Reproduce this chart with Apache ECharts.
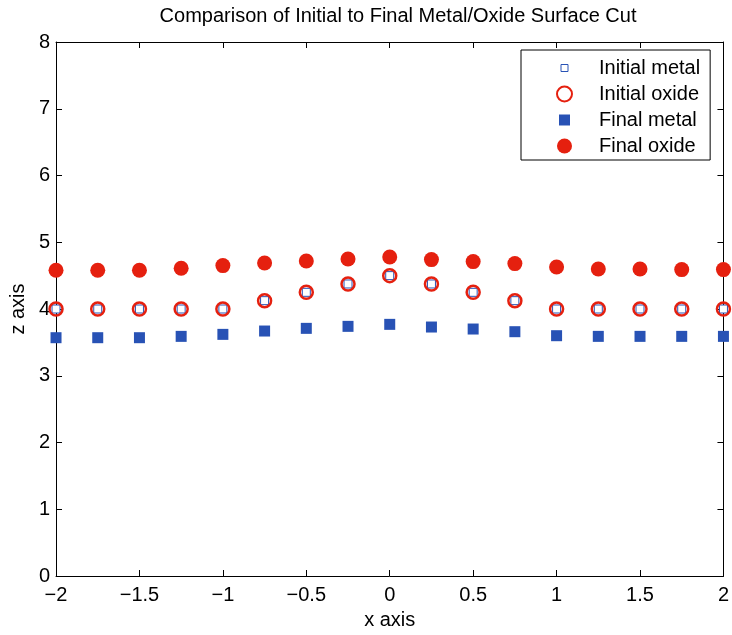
<!DOCTYPE html>
<html><head><meta charset="utf-8">
<script src="https://cdn.jsdelivr.net/npm/echarts@6/dist/echarts.min.js"></script>
<style>html,body{margin:0;padding:0;background:#fff}#c{width:732px;height:635px}</style>
</head><body><div id="c"></div>
<script>
const xValues = [-2,-1.75,-1.5,-1.25,-1,-0.75,-0.5,-0.25,0,0.25,0.5,0.75,1,1.25,1.5,1.75,2];
const initialMetal = [4,4,4,4,4,4.125,4.25,4.375,4.5,4.375,4.25,4.125,4,4,4,4,4];
const initialOxide = [4,4,4,4,4,4.125,4.25,4.375,4.5,4.375,4.25,4.125,4,4,4,4,4];
const finalMetal = [3.57,3.57,3.57,3.59,3.62,3.67,3.71,3.74,3.77,3.73,3.70,3.66,3.60,3.59,3.59,3.59,3.59];
const finalOxide = [4.58,4.58,4.58,4.61,4.65,4.69,4.72,4.75,4.78,4.74,4.71,4.68,4.63,4.60,4.60,4.59,4.59];
const xTicks = [-2,-1.5,-1,-0.5,0,0.5,1,1.5,2];
const yTicks = [0,1,2,3,4,5,6,7,8];

const RED = '#e5200f', BLUE = '#2852b5';
const FONT = 'Liberation Sans';
const pair = arr => xValues.map((x,i)=>[x,arr[i]]);
const fmt = v => String(v).replace('-', '\u2212');

const axisCommon = () => ({
  axisLine:{show:true,onZero:false,lineStyle:{color:'#000',width:1}},
  axisTick:{show:true,inside:true,length:6,lineStyle:{color:'#000'}},
  splitLine:{show:false}
});
const chart = echarts.init(document.getElementById('c'));
chart.setOption({
  backgroundColor:'#fff',
  animation:false,
  title:{text:'Comparison of Initial to Final Metal/Oxide Surface Cut',left:393,top:1,textAlign:'center',
    textStyle:{fontFamily:FONT,fontSize:20,fontWeight:'normal',color:'#000'}},
  grid:{left:55,right:5,top:42,bottom:58},
  legend:{orient:'vertical',left:521,top:50,padding:[8,10,4,35],itemGap:6,itemWidth:15,itemHeight:15,
    backgroundColor:'#fff',borderColor:'#000',borderWidth:1,
    textStyle:{fontFamily:FONT,fontSize:20,color:'#000',padding:[0,0,0,22]},
    data:[
      {name:'Initial metal',icon:'path://M0,0L0,0M4,4L11,4L11,11L4,11ZM15,15L15,15',itemStyle:{borderWidth:1}},
      {name:'Initial oxide',icon:'circle'},
      {name:'Final metal',icon:'path://M0,0L0,0M2,2L13,2L13,13L2,13ZM15,15L15,15'},
      {name:'Final oxide',icon:'circle'}
    ]},
  xAxis:[
    Object.assign({type:'value',min:-2,max:2,interval:0.5,position:'bottom',name:'x axis',nameLocation:'middle',nameGap:34,
      nameTextStyle:{fontFamily:FONT,fontSize:20,color:'#000'},
      axisLabel:{fontFamily:FONT,fontSize:20,color:'#000',margin:9,formatter:v=>fmt(v)}},axisCommon()),
    Object.assign({type:'value',min:-2,max:2,interval:0.5,position:'top',axisLabel:{show:false}},axisCommon())
  ],
  yAxis:[
    Object.assign({type:'value',min:0,max:8,interval:1,position:'left',name:'z axis',nameLocation:'middle',nameGap:25,
      nameTextStyle:{fontFamily:FONT,fontSize:20,color:'#000'},
      axisLabel:{fontFamily:FONT,fontSize:20,color:'#000',margin:6,formatter:v=>fmt(v)}},axisCommon()),
    Object.assign({type:'value',min:0,max:8,interval:1,position:'right',axisLabel:{show:false}},axisCommon())
  ],
  series:[
    {name:'Initial metal',type:'scatter',data:pair(initialMetal),symbol:'rect',symbolSize:8,clip:false,z:2,
      itemStyle:{color:'#fff',borderColor:BLUE,borderWidth:1,opacity:1}},
    {name:'Initial oxide',type:'scatter',data:pair(initialOxide),symbol:'circle',symbolSize:13,clip:false,z:3,
      itemStyle:{color:'rgba(255,255,255,0)',borderColor:RED,borderWidth:2.5,opacity:1}},
    {name:'Final metal',type:'scatter',data:pair(finalMetal),symbol:'rect',symbolSize:11,clip:false,z:3,
      itemStyle:{color:BLUE,opacity:1}},
    {name:'Final oxide',type:'scatter',data:pair(finalOxide),symbol:'circle',symbolSize:15,clip:false,z:3,
      itemStyle:{color:RED,opacity:1}}
  ]
});
</script></body></html>
